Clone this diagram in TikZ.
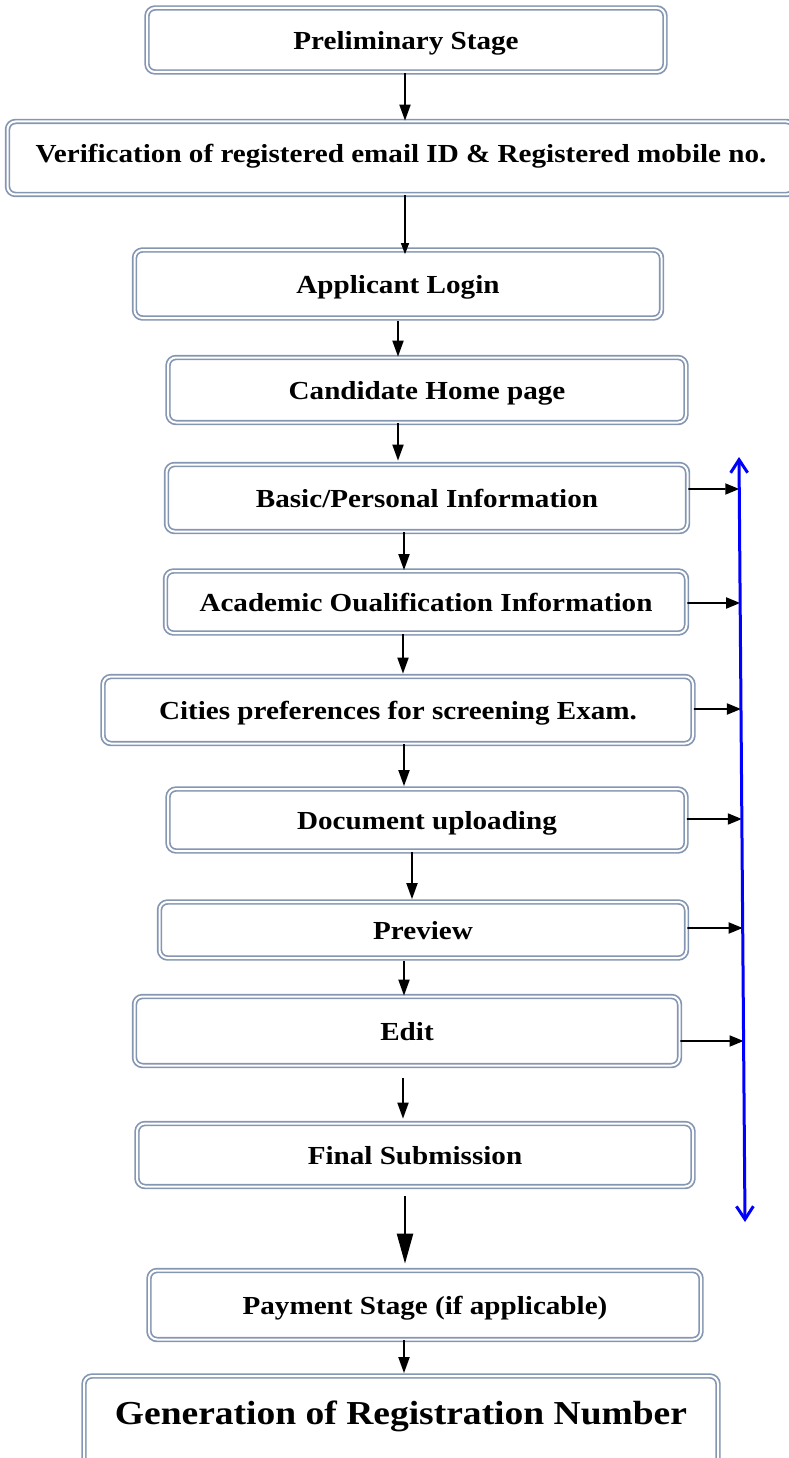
\documentclass[tikz,border=0pt]{standalone}
\usepackage{fontspec}
\setmainfont{Liberation Serif}[FakeStretch=1.12]
\usepackage{tikz}
\usetikzlibrary{arrows.meta,calc,positioning}
\definecolor{boxline}{RGB}{132,150,178}
\definecolor{sideblue}{RGB}{0,0,255}

\begin{document}
\begin{tikzpicture}[
        x=1pt, y=-1pt,
        flowbox/.style={draw=boxline, double=white, double distance=2pt, line width=1.7pt, rounded corners=8pt, align=center, text depth=0pt, font=\fontsize{26}{30}\selectfont\bfseries},
        downarrow/.style={line width=1.8pt, -{Triangle[length=16pt,width=11pt]}},
        sidearrow/.style={line width=1.8pt, -{Triangle[length=14pt,width=11pt]}},
        bluearrow/.style={sideblue, line width=3pt, {Straight Barb[length=13pt,width=17pt]}-{Straight Barb[length=13pt,width=17pt]}}
    ]
        \useasboundingbox (0,0) rectangle (788,1458);

        % Main stages
        \node[flowbox, minimum width=518, minimum height=64] (prelim) at (406,40) {Preliminary Stage};
        \node[flowbox, minimum width=787, minimum height=73, text depth=10pt] (verif) at (401,158) {Verification of registered email ID \& Registered mobile no.};
        \node[flowbox, minimum width=527, minimum height=68] (login) at (398,284) {Applicant Login};
        \node[flowbox, minimum width=518, minimum height=65] (home) at (427,390) {Candidate Home page};

        % Application form steps
        \node[flowbox, minimum width=521, minimum height=67] (basic) at (427,498) {Basic/Personal Information};
        \node[flowbox, minimum width=521, minimum height=62] (acad) at (426,602) {Academic Oualification Information};
        \node[flowbox, minimum width=590, minimum height=67] (cities) at (398,710) {Cities preferences for screening Exam.};
        \node[flowbox, minimum width=518, minimum height=62] (doc) at (427,820) {Document uploading};
        \node[flowbox, minimum width=527, minimum height=56] (preview) at (423,930) {Preview};
        \node[flowbox, minimum width=545, minimum height=69] (edit) at (407,1031) {Edit};
        \node[flowbox, minimum width=556, minimum height=63] (final) at (415,1155) {Final Submission};

        % Closing stages
        \node[flowbox, minimum width=552, minimum height=69] (pay) at (425,1305) {Payment Stage (if applicable)};
        \node[flowbox, minimum width=634, minimum height=94, font=\fontsize{33.5}{40}\selectfont\bfseries, text depth=20pt] (gen) at (401,1423) {Generation of Registration Number};

        % Connect nodes
        \draw[downarrow] (prelim.south -| 405,0) -- (verif.north -| 405,0);
        \draw[line width=1.2pt, -{Triangle[length=11pt,width=8pt]}] (verif.south -| 405,0) -- ([yshift=-5pt]login.north -| 405,0);
        \draw[downarrow] ([yshift=-2pt]login.south -| 398,0) -- (home.north -| 398,0);
        \draw[downarrow] (home.south -| 398,0) -- ([yshift=3pt]basic.north -| 398,0);
        \draw[downarrow] (basic.south -| 404,0) -- (acad.north -| 404,0);
        \draw[downarrow] (acad.south -| 403,0) -- ([yshift=2pt]cities.north -| 403,0);
        \draw[downarrow] (cities.south -| 404,0) -- ([yshift=2pt]doc.north -| 404,0);
        \draw[downarrow] (doc.south -| 412,0) -- ([yshift=2pt]preview.north -| 412,0);
        \draw[downarrow] ([yshift=-2pt]preview.south -| 404,0) -- (edit.north -| 404,0);
        \draw[downarrow] ([yshift=-12pt]edit.south -| 403,0) -- ([yshift=4pt]final.north -| 403,0);
        \draw[line width=2.2pt, -{Triangle[length=30pt,width=16pt]}] ([yshift=-9pt]final.south -| 405,0) -- ([yshift=6pt]pay.north -| 405,0);
        \draw[downarrow] (pay.south -| 404,0) -- ([yshift=2pt]gen.north -| 404,0);

        % Side line back to the form steps
        \coordinate (bluetop) at (739,457);
        \coordinate (bluebot) at (745,1222);
        \foreach \nd/\ypos in {basic/489, acad/603, cities/709, doc/819, preview/928, edit/1041}
            \draw[sidearrow] (\nd.east |- 0,\ypos) -- ($(bluetop)!{(\ypos-457)/765}!(bluebot)$);
        \draw[bluearrow] (bluetop) -- (bluebot);
    \end{tikzpicture}
\end{document}
